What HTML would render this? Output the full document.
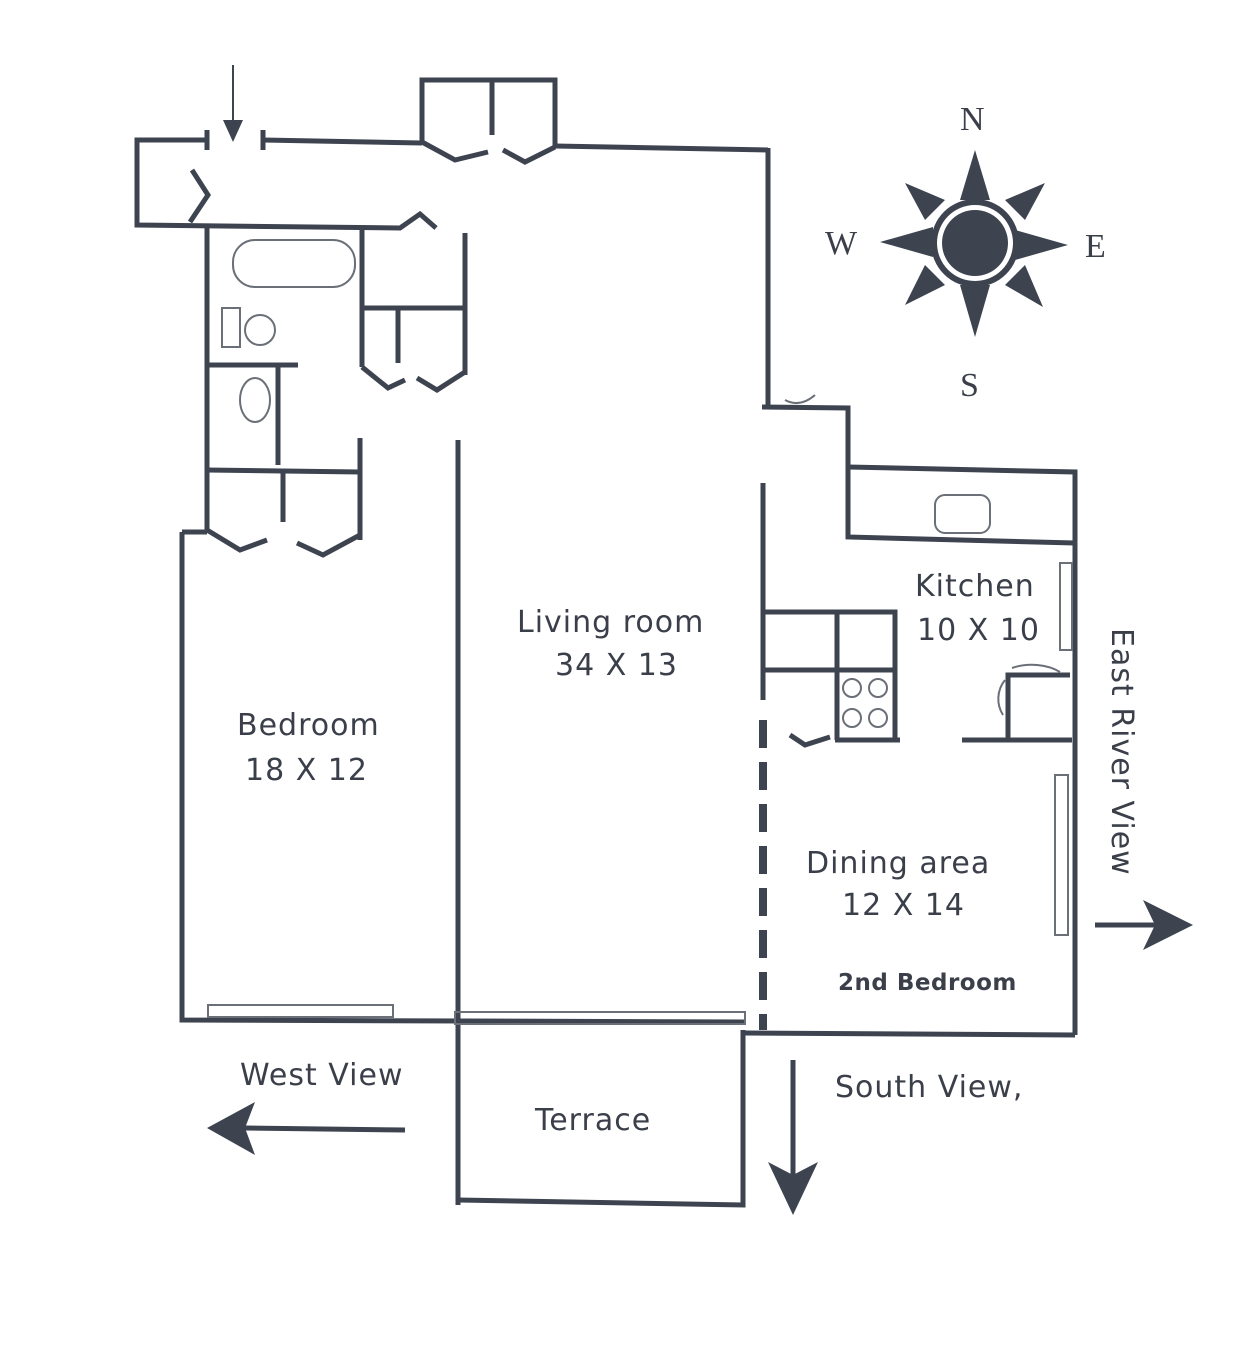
<!DOCTYPE html>
<html><head><style>
html,body{margin:0;padding:0;background:#fff;}
svg{display:block;}
text{font-family:"DejaVu Sans","Liberation Sans",sans-serif;fill:#3a3f4a;}
</style></head><body>
<svg width="1260" height="1361" viewBox="0 0 1260 1361" xmlns="http://www.w3.org/2000/svg">
<g fill="none" stroke="#3d4450" stroke-width="5" stroke-linecap="butt" stroke-linejoin="miter">
<polyline points="207,140 137,140 137,225 400,228 420,214 436,228"/>
<line x1="207" y1="130" x2="207" y2="150"/>
<polyline points="263,130 263,150"/>
<line x1="263" y1="140" x2="422" y2="143"/>
<polyline points="192,170 208,195 190,222"/>
<polyline points="422,142 422,80 555,80 555,147"/>
<line x1="492" y1="80" x2="492" y2="135"/>
<polyline points="422,142 455,160 488,152"/>
<polyline points="503,150 525,162 555,147 555,147"/>
<line x1="555" y1="146" x2="768" y2="150"/>
<line x1="768" y1="148" x2="768" y2="408"/>
<polyline points="762,407 848,408 848,537 1075,543"/>
<polyline points="848,467 1075,472 1075,1035"/>
<line x1="207" y1="226" x2="207" y2="532"/>
<line x1="207" y1="365" x2="298" y2="365"/>
<line x1="278" y1="365" x2="278" y2="465"/>
<line x1="207" y1="470" x2="360" y2="472"/>
<line x1="360" y1="438" x2="360" y2="540"/>
<line x1="283" y1="472" x2="283" y2="522"/>
<polyline points="207,530 240,550 267,540"/>
<polyline points="297,543 323,555 360,535"/>
<polyline points="182,532 182,1020 745,1022"/>
<line x1="182" y1="532" x2="207" y2="532"/>
<line x1="362" y1="230" x2="362" y2="367"/>
<line x1="465" y1="233" x2="465" y2="375"/>
<line x1="362" y1="308" x2="465" y2="308"/>
<line x1="398" y1="308" x2="398" y2="363"/>
<polyline points="362,367 388,388 405,380"/>
<polyline points="417,378 437,390 465,372"/>
<line x1="458" y1="440" x2="458" y2="1205"/>
<line x1="763" y1="483" x2="763" y2="700"/>
<line x1="763" y1="720" x2="763" y2="1030" stroke-width="8" stroke-dasharray="28,14"/>
<polyline points="763,612 895,612 895,740"/>
<line x1="837" y1="612" x2="837" y2="740"/>
<line x1="763" y1="670" x2="895" y2="670"/>
<line x1="835" y1="740" x2="900" y2="740"/>
<polyline points="790,735 805,745 830,737"/>
<line x1="962" y1="740" x2="1072" y2="740"/>
<polyline points="1008,740 1008,675 1070,675"/>
<line x1="745" y1="1033" x2="1075" y2="1035"/>
<polyline points="458,1200 743,1205 743,1030"/>
<line x1="233" y1="65" x2="233" y2="125" stroke-width="2"/>
<line x1="405" y1="1130" x2="245" y2="1128"/>
<line x1="1095" y1="925" x2="1160" y2="925"/>
<line x1="793" y1="1060" x2="793" y2="1180"/>
</g>
<g fill="none" stroke="#6a6f78" stroke-width="2">
<rect x="233" y="240" width="122" height="47" rx="22"/>
<rect x="222" y="308" width="18" height="39"/>
<ellipse cx="260" cy="330" rx="15" ry="15"/>
<ellipse cx="255" cy="400" rx="15" ry="22"/>
<rect x="935" y="495" width="55" height="38" rx="10"/>
<circle cx="852" cy="688" r="9"/><circle cx="878" cy="688" r="9"/>
<circle cx="852" cy="718" r="9"/><circle cx="878" cy="718" r="9"/>
<rect x="1060" y="563" width="12" height="87"/>
<rect x="1055" y="775" width="13" height="160"/>
<rect x="208" y="1005" width="185" height="12"/>
<rect x="455" y="1012" width="290" height="12"/>
<path d="M1003,715 A30,30 0 0 1 1005,680"/>
<path d="M1012,668 A40,25 0 0 1 1060,672"/>
<path d="M785,400 Q800,408 815,395"/>
</g>
<g fill="#3d4450">
<polygon points="223,120 243,120 233,142"/>
<polygon points="207,1128 255,1102 245,1128 255,1155"/>
<polygon points="1193,925 1143,900 1155,925 1143,950"/>
<polygon points="793,1215 768,1162 793,1175 818,1162"/>
<polygon points="975,150 990,200 960,200"/>
<polygon points="975,337 990,285 960,285"/>
<polygon points="1068,245 1015,230 1015,260"/>
<polygon points="880,242 933,227 933,257"/>
<polygon points="1045,183 1005,200 1025,220"/>
<polygon points="905,183 945,200 925,220"/>
<polygon points="905,305 925,265 945,285"/>
<polygon points="1043,307 1025,265 1005,285"/>
<circle cx="975" cy="243" r="44"/>
<circle cx="975" cy="243" r="38" fill="#fff"/>
<circle cx="975" cy="243" r="33"/>
</g>
<g>
<text x="960" y="130" font-size="34" style="font-family:'Liberation Serif',serif">N</text>
<text x="825" y="254" font-size="34" style="font-family:'Liberation Serif',serif">W</text>
<text x="1085" y="257" font-size="34" style="font-family:'Liberation Serif',serif">E</text>
<text x="960" y="396" font-size="34" style="font-family:'Liberation Serif',serif">S</text>
</g>
<g font-size="30" letter-spacing="1">
<text x="517" y="632">Living room</text>
<text x="555" y="675">34 X 13</text>
<text x="237" y="735">Bedroom</text>
<text x="245" y="780">18 X 12</text>
<text x="915" y="596">Kitchen</text>
<text x="917" y="640">10 X 10</text>
<text x="806" y="873">Dining area</text>
<text x="842" y="915">12 X 14</text>
<text x="838" y="990" font-size="23" font-weight="bold" letter-spacing="0.5">2nd Bedroom</text>
<text x="240" y="1085">West View</text>
<text x="835" y="1097">South View,</text>
<text x="535" y="1130">Terrace</text>
<text transform="translate(1112,628) rotate(90)">East River View</text>
</g>
</svg>
</body></html>
